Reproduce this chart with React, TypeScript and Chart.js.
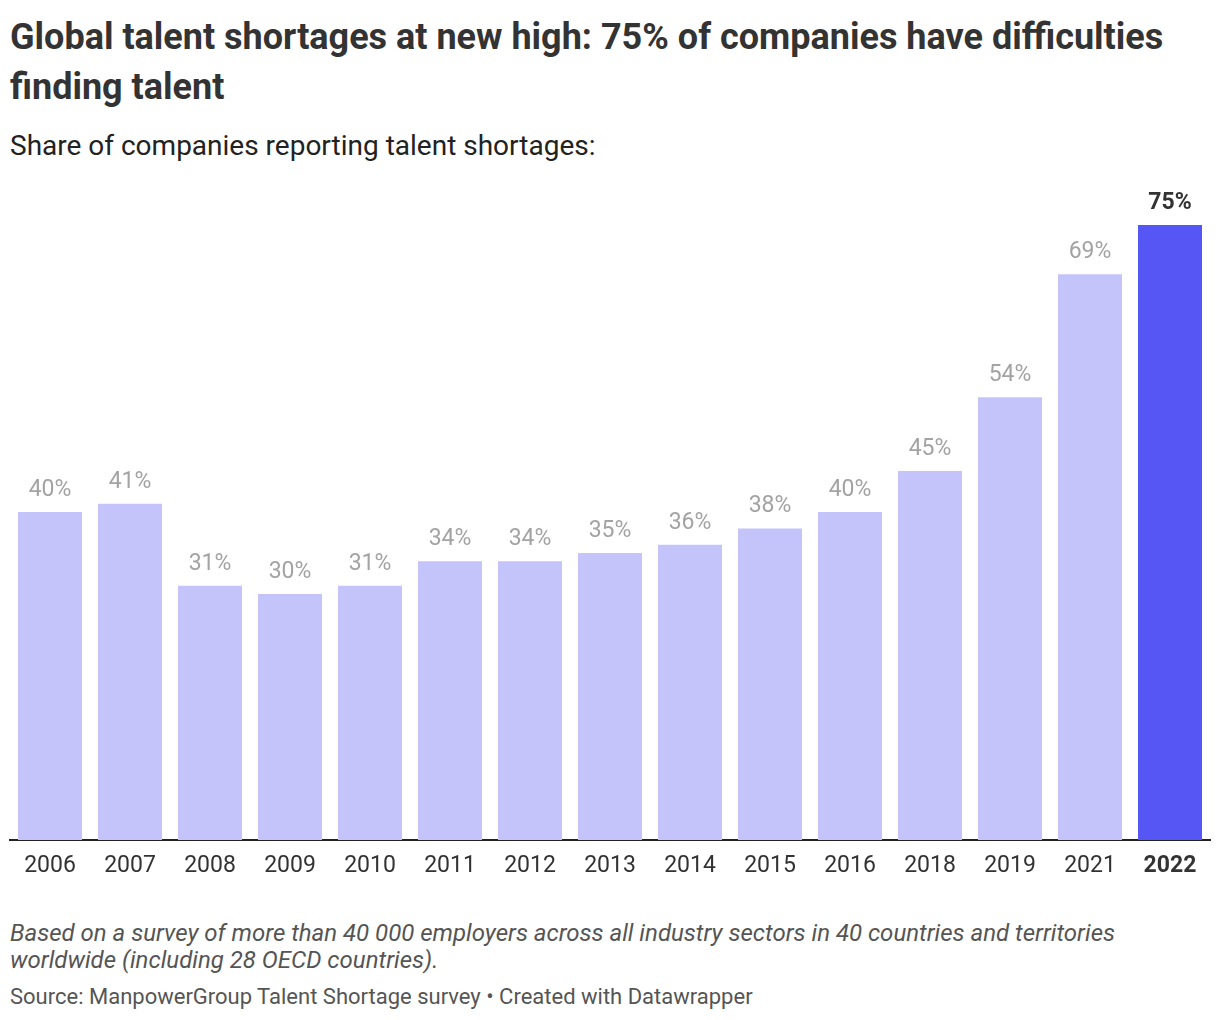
import React, { useEffect, useRef } from "react";
import { Chart, registerables } from "chart.js";

Chart.register(...registerables);

const years = ["2006", "2007", "2008", "2009", "2010", "2011", "2012", "2013", "2014", "2015", "2016", "2018", "2019", "2021", "2022"];
const shares = [40, 41, 31, 30, 31, 34, 34, 35, 36, 38, 40, 45, 54, 69, 75];
const highlightYear = "2022";

const FONT = "Roboto, 'Noto Sans', sans-serif";
const LIGHT = "#c4c4fa";
const DARK = "#5656f5";

const valueLabels = {
  id: "valueLabels",
  afterDatasetsDraw(chart: any) {
    const ctx = chart.ctx;
    const meta = chart.getDatasetMeta(0);
    ctx.save();
    ctx.textAlign = "center";
    ctx.textBaseline = "alphabetic";
    meta.data.forEach((bar: any, i: number) => {
      const hi = years[i] === highlightYear;
      ctx.font = `${hi ? "bold " : ""}23px ${FONT}`;
      ctx.fillStyle = hi ? "#333333" : "#a3a3a3";
      ctx.fillText(`${shares[i]}%`, bar.x, bar.y - 16);
    });
    ctx.restore();
  },
};

export default function App() {
  const ref = useRef<HTMLCanvasElement>(null);
  useEffect(() => {
    document.body.style.margin = "0";
    const chart = new Chart(ref.current!, {
      type: "bar",
      data: {
        labels: years,
        datasets: [
          {
            data: shares,
            backgroundColor: years.map((y) => (y === highlightYear ? DARK : LIGHT)),
            categoryPercentage: 1,
            barPercentage: 0.8,
          },
        ],
      },
      options: {
        animation: false,
        responsive: false,
        maintainAspectRatio: false,
        layout: { padding: { left: 10, right: 10, top: 4, bottom: 0 } },
        plugins: { legend: { display: false }, tooltip: { enabled: false } },
        scales: {
          y: { display: false, min: 0, max: 80 },
          x: {
            grid: { display: false },
            border: { display: true, color: "#222222", width: 2 },
            afterFit: (axis: any) => {
              axis.height = 50;
            },
            ticks: {
              padding: 4,
              color: "#333333",
              font: (c: any) => ({
                family: FONT,
                size: 23,
                weight: years[c.index] === highlightYear ? "bold" : "normal",
              }),
            },
          },
        },
      },
      plugins: [valueLabels],
    });
    return () => chart.destroy();
  }, []);

  return (
    <div style={{ position: "relative", width: 1220, height: 1020, fontFamily: FONT, background: "#fff" }}>
      <div style={{ position: "absolute", left: 10, top: 12, width: 1205, fontSize: 36, lineHeight: "50px", fontWeight: 700, color: "#333333" }}>
        Global talent shortages at new high: 75% of companies have difficulties finding talent
      </div>
      <div style={{ position: "absolute", left: 10, top: 129, fontSize: 28, lineHeight: "34px", color: "#222222", whiteSpace: "nowrap" }}>
        Share of companies reporting talent shortages:
      </div>
      <canvas ref={ref} width={1220} height={710} style={{ position: "absolute", left: 0, top: 180, width: 1220, height: 710 }} />
      <div style={{ position: "absolute", left: 10, top: 920, width: 1205, fontSize: 24, lineHeight: "27px", fontStyle: "italic", color: "#555555" }}>
        Based on a survey of more than 40 000 employers across all industry sectors in 40 countries and territories worldwide (including 28 OECD countries).
      </div>
      <div style={{ position: "absolute", left: 10, top: 984, fontSize: 22, lineHeight: "26px", color: "#555555", whiteSpace: "nowrap" }}>
        Source: ManpowerGroup Talent Shortage survey • Created with Datawrapper
      </div>
    </div>
  );
}
